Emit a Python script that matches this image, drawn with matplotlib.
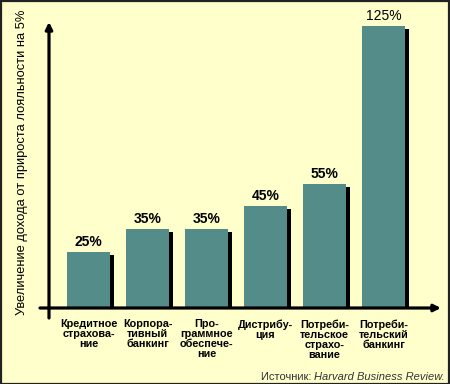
import matplotlib
matplotlib.use("Agg")
import matplotlib.pyplot as plt
from matplotlib.patches import Rectangle

categories = [
    "Кредитное\nстрахова-\nние",
    "Корпора-\nтивный\nбанкинг",
    "Про-\nграммное\nобеспече-\nние",
    "Дистрибу-\nция",
    "Потреби-\nтельское\nстрахо-\nвание",
    "Потреби-\nтельский\nбанкинг",
]
values = [25, 35, 35, 45, 55, 125]
value_labels = ["25%", "35%", "35%", "45%", "55%", "125%"]
ylabel = "Увеличение дохода от прироста лояльности на 5%"
source_prefix = "Источник: "
source_name = "Harvard Business Review."

BG = "#ffffcc"
BAR = "#548c8a"

W, H = 450, 384
fig = plt.figure(figsize=(W / 100, H / 100), dpi=100, facecolor=BG)
plt.rcParams['font.family'] = ['Liberation Sans', 'DejaVu Sans']

# axes box in pixels: x 49..440, y 22..308 (from top)
ax = fig.add_axes((49 / W, (H - 308) / H, (440 - 49) / W, (308 - 22) / H))
ax.set_facecolor("none")
for s in ax.spines.values():
    s.set_visible(False)
ax.set_xticks([])
ax.set_yticks([])

px_x = 59.0
x0 = -39.5 / px_x
ax.set_xlim(x0, (440 - 49) / px_x + x0)
px_y = 282 / 125
ax.set_ylim(0, 286 / px_y)

xs = list(range(len(values)))
bw = 43 / px_x
sh = 3.5 / px_x
# shadows
ax.bar([x + bw / 2 for x in xs], [v - 3 / px_y for v in values], width=sh,
       align="edge", color="black", zorder=2)
ax.bar(xs, values, width=bw, color=BAR, zorder=3)

for x, v, lab in zip(xs, values, value_labels):
    ax.text(x, v + 10 / px_y, lab, ha="center", va="center", fontsize=10,
            fontweight="normal" if v > 100 else "bold", color="black", zorder=4)

for x, c in zip(xs, categories):
    ax.text(x, -11 / px_y, c, ha="center", va="top", fontsize=7.8,
            fontweight="bold", linespacing=1.0, clip_on=False)

# axis lines with arrows
lw = 2.3
arrow = dict(arrowstyle="-|>", lw=lw, color="black", mutation_scale=10,
             shrinkA=0, shrinkB=0)
ax.annotate("", xy=(x0, 286 / px_y), xytext=(x0, -10 / px_y),
            arrowprops=arrow, annotation_clip=False)
ax.annotate("", xy=(392 / px_x + x0, 0), xytext=(x0 - 9 / px_x, 0),
            arrowprops=arrow, annotation_clip=False)

fig.text(22 / W, 1 - 162 / H, ylabel, rotation=90, ha="center", va="center",
         fontsize=9.3, color="black")

t2 = fig.text(445 / W, 1 - 377 / H, source_name, ha="right", va="center",
              fontsize=8, style="italic", color="#333333")
ax.annotate(source_prefix, xy=(0, 0.5), xycoords=t2, ha="right", va="center",
            fontsize=8, color="#333333", annotation_clip=False)

fig.patches.append(Rectangle((0.5 / W, 0.5 / H), 1 - 1.5 / W, 1 - 1.5 / H,
                             transform=fig.transFigure, fill=False,
                             edgecolor="#222222", lw=1.6))

fig.savefig("out.png", dpi=100, facecolor=BG)
